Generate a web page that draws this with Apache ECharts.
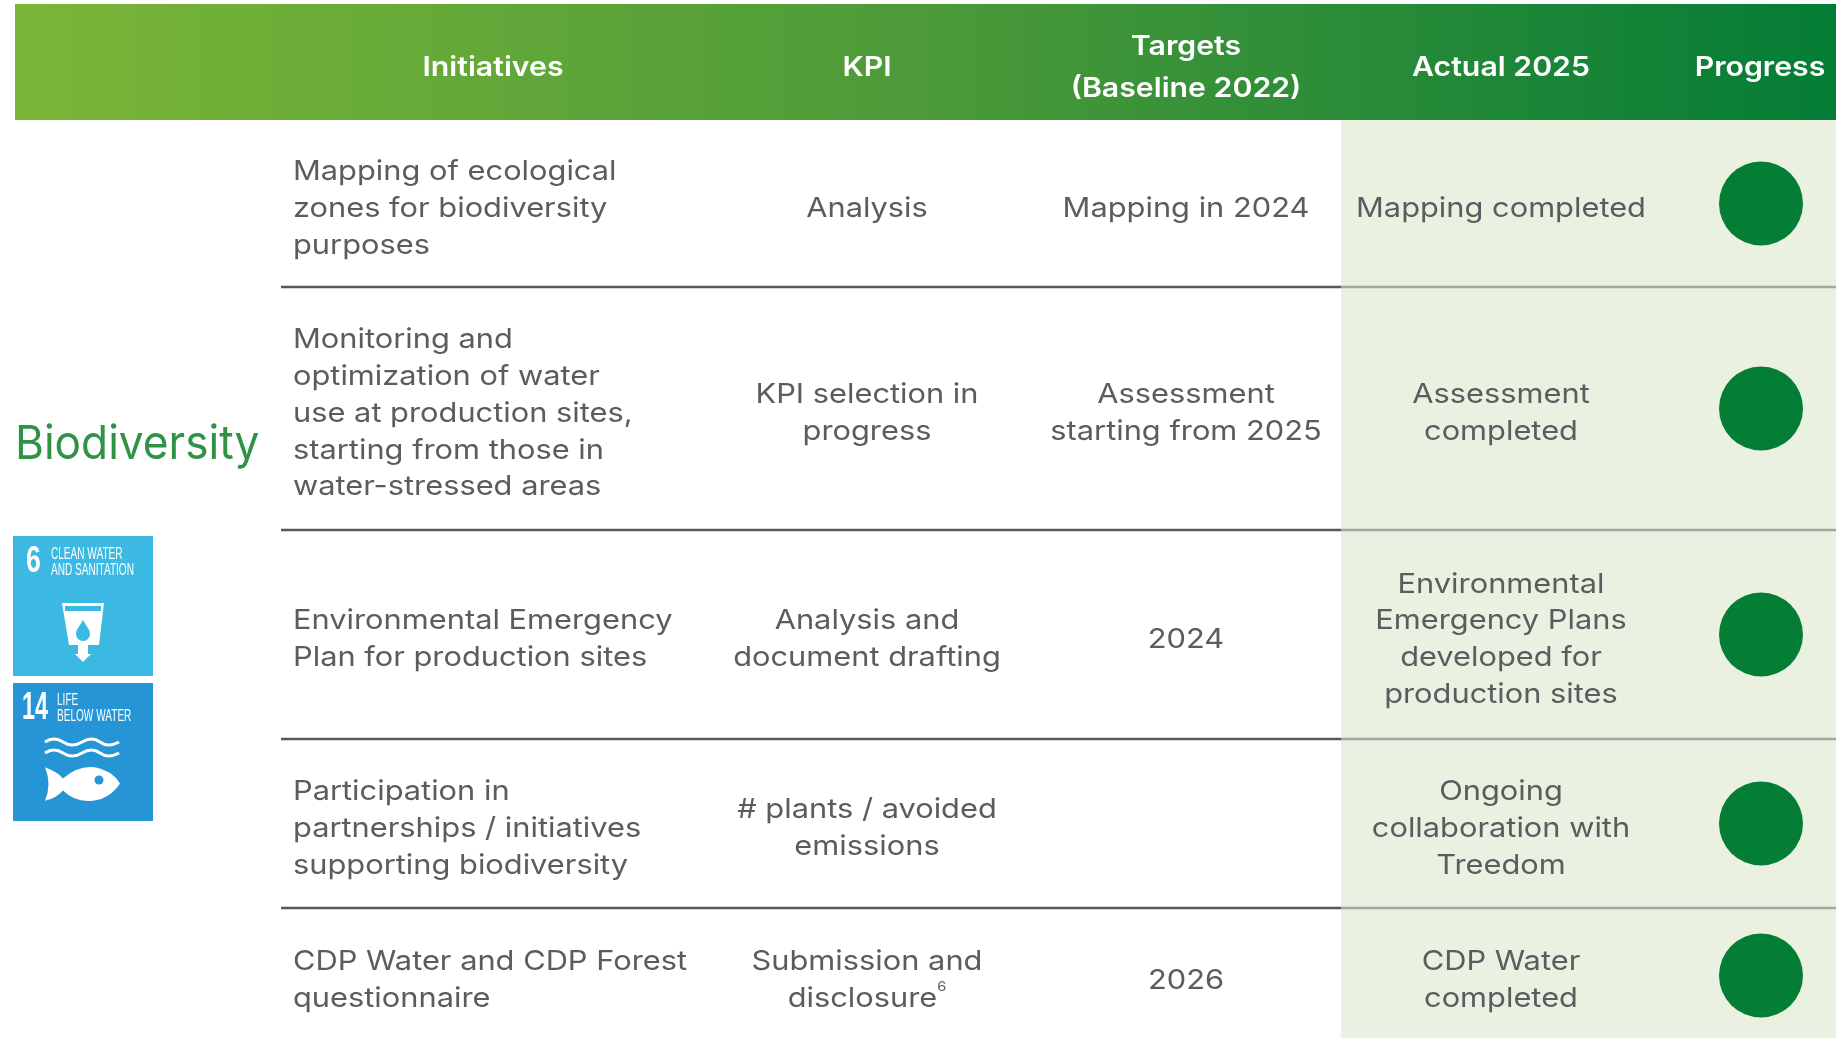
<!DOCTYPE html>
<html>
<head>
<meta charset="utf-8">
<style>
  html, body { margin: 0; height: 100%; background: #fff; }
  #chartRef { width: 1836px; height: 1038px; }
</style>
<script src="https://cdn.jsdelivr.net/npm/echarts@6/dist/echarts.min.js"></script>
</head>
<body>
<div id="chartRef"></div>
<script>
const headers = ['Initiatives', 'KPI', 'Targets\n(Baseline 2022)', 'Actual 2025', 'Progress'];
const initiatives = [
  'Mapping of ecological\nzones for biodiversity\npurposes',
  'Monitoring and\noptimization of water\nuse at production sites,\nstarting from those in\nwater-stressed areas',
  'Environmental Emergency\nPlan for production sites',
  'Participation in\npartnerships / initiatives\nsupporting biodiversity',
  'CDP Water and CDP Forest\nquestionnaire'
];
const kpis = [
  'Analysis',
  'KPI selection in\nprogress',
  'Analysis and\ndocument drafting',
  '# plants / avoided\nemissions',
  'Submission and\ndisclosure{sup|6}'
];
const targets = [
  'Mapping in 2024',
  'Assessment\nstarting from 2025',
  '2024',
  '',
  '2026'
];
const actuals = [
  'Mapping completed',
  'Assessment\ncompleted',
  'Environmental\nEmergency Plans\ndeveloped for\nproduction sites',
  'Ongoing\ncollaboration with\nTreedom',
  'CDP Water\ncompleted'
];
const progress = ['done', 'done', 'done', 'done', 'done'];

// table layout, in axis units (the axes are 1:1 with the page)
// the last row runs off the bottom of the page
const rowEdges = [120, 287, 530, 739, 908, 1043];
const headerTop = 4;
const headerHeadX = [493, 867, 1186, 1501, 1760];
const initiativeX = 293;
const kpiX = 867;
const targetX = 1186;
const actualX = 1501;
const progressX = 1761;
const tableLeft = 281;
const bandLeft = 1341;
const pageRight = 1836;
const textNudge = 5;

const FONT = 'Inter, "Noto Sans", sans-serif';
const NARROW = '"Liberation Sans", sans-serif';
const TEXT_COLOR = '#5b5c5f';
const WIDEN = 1.12;
const TILE_A = '#3bb9e3';
const TILE_B = '#2595d5';

const rowMid = (i) => (rowEdges[i] + rowEdges[i + 1]) / 2;

function textCell(api, x, y, str, align) {
  const p = api.coord([x, y]);
  return {
    type: 'text',
    x: p[0],
    y: p[1],
    scaleX: WIDEN,
    style: {
      text: str,
      fill: TEXT_COLOR,
      font: '400 27.5px ' + FONT,
      lineHeight: 36.8,
      align: align,
      verticalAlign: 'middle',
      rich: {
        sup: { font: '400 13px ' + FONT, fill: TEXT_COLOR, verticalAlign: 'top', lineHeight: 24 }
      }
    }
  };
}

function tileText(x, y, str, size, weight, squeeze, lineHeight) {
  return {
    type: 'text',
    x: x,
    y: y,
    scaleX: squeeze,
    style: {
      text: str,
      fill: '#fff',
      font: weight + ' ' + size + 'px ' + NARROW,
      lineHeight: lineHeight,
      verticalAlign: 'middle'
    }
  };
}

function pathShape(d, x, y, width, height) {
  return { pathData: d, x: x, y: y, width: width, height: height, layout: 'cover' };
}

const chart = echarts.init(document.getElementById('chartRef'));

const option = {
  animation: false,
  backgroundColor: '#fff',
  grid: { left: 0, top: 0, right: 0, bottom: 0 },
  xAxis: { type: 'value', min: 0, max: 1836, show: false },
  yAxis: { type: 'value', min: 0, max: 1038, inverse: true, show: false },
  series: [
    {
      // header strip and the pale band behind the last two columns
      type: 'custom',
      z: 1,
      silent: true,
      data: [0],
      renderItem(params, api) {
        const a = api.coord([15, headerTop]);
        const b = api.coord([pageRight, rowEdges[0]]);
        const c = api.coord([bandLeft, rowEdges[0]]);
        const d = api.coord([pageRight, rowEdges[rowEdges.length - 1]]);
        return {
          type: 'group',
          children: [
            {
              type: 'rect',
              shape: { x: a[0], y: a[1], width: b[0] - a[0], height: b[1] - a[1] },
              style: {
                fill: new echarts.graphic.LinearGradient(0, 0, 1, 0, [
                  { offset: 0, color: '#7bb637' },
                  { offset: 0.5, color: '#4c9a39' },
                  { offset: 1, color: '#047c36' }
                ])
              }
            },
            {
              type: 'rect',
              shape: { x: c[0], y: c[1], width: d[0] - c[0], height: d[1] - c[1] },
              style: { fill: '#ebf1e0' }
            }
          ]
        };
      }
    },
    {
      // row rules
      type: 'custom',
      z: 2,
      silent: true,
      data: rowEdges.slice(1, -1),
      renderItem(params, api) {
        const y = api.value(0);
        const a = api.coord([tableLeft, y]);
        const m = api.coord([bandLeft, y]);
        const b = api.coord([pageRight, y]);
        return {
          type: 'group',
          children: [
            { type: 'line', shape: { x1: a[0], y1: a[1], x2: m[0], y2: m[1] }, style: { stroke: '#58595b', lineWidth: 2.5 } },
            { type: 'line', shape: { x1: m[0], y1: m[1], x2: b[0], y2: b[1] }, style: { stroke: '#a4a6a4', lineWidth: 2.5 } }
          ]
        };
      }
    },
    {
      type: 'custom',
      z: 3,
      silent: true,
      data: initiatives.map((t, i) => i),
      renderItem(params, api) {
        const i = api.value(0);
        const y = rowMid(i) + textNudge;
        return {
          type: 'group',
          children: [
            textCell(api, initiativeX, y, initiatives[i], 'left'),
            textCell(api, kpiX, y, kpis[i], 'center'),
            textCell(api, targetX, y, targets[i], 'center'),
            textCell(api, actualX, y, actuals[i], 'center')
          ]
        };
      }
    },
    {
      // header labels
      type: 'custom',
      z: 3,
      silent: true,
      data: headers.map((t, i) => i),
      renderItem(params, api) {
        const i = api.value(0);
        const p = api.coord([headerHeadX[i], 67.5]);
        return {
          type: 'text',
          x: p[0],
          y: p[1],
          scaleX: 1.1,
          style: {
            text: headers[i],
            fill: '#fff',
            font: '600 27.5px ' + FONT,
            lineHeight: 42,
            align: 'center',
            verticalAlign: 'middle'
          }
        };
      }
    },
    {
      // SDG tiles, drawn in page pixels because the axes are 1:1
      type: 'custom',
      z: 3,
      silent: true,
      data: [0],
      renderItem() {
        return {
          type: 'group',
          children: [
            { type: 'rect', shape: { x: 13, y: 536, width: 140, height: 140 }, style: { fill: TILE_A } },
            tileText(26, 562, '6', 37, 700, 0.72, 37),
            tileText(51, 562, 'CLEAN WATER\nAND SANITATION', 16.5, 400, 0.61, 16),
            { type: 'polygon', shape: { points: [[62, 603], [104, 603], [99, 645], [88, 645], [88, 654], [91, 654], [83, 662], [75, 654], [78, 654], [78, 645], [69, 645]] }, style: { fill: '#fff' } },
            { type: 'rect', shape: { x: 65, y: 606, width: 36, height: 5 }, style: { fill: TILE_A } },
            { type: 'path', shape: pathShape('M83 620 C86 626 90 629 90 634 A7 7 0 0 1 76 634 C76 629 80 626 83 620 Z', 76, 620, 14, 21), style: { fill: TILE_A } },
            { type: 'rect', shape: { x: 13, y: 683, width: 140, height: 138 }, style: { fill: TILE_B } },
            tileText(22, 708, '14', 39, 700, 0.6, 39),
            tileText(57, 708, 'LIFE\nBELOW WATER', 16.5, 400, 0.61, 16),
            { type: 'path', shape: pathShape('M45 742 Q54 736 63 742 T82 742 T100 742 T119 742', 45, 739, 74, 6), style: { fill: 'none', stroke: '#fff', lineWidth: 3 } },
            { type: 'path', shape: pathShape('M45 753 Q54 747 63 753 T82 753 T100 753 T119 753', 45, 750, 74, 6), style: { fill: 'none', stroke: '#fff', lineWidth: 3 } },
            { type: 'path', shape: pathShape('M45 767 Q58 772 63 778 Q78 765 95 767 Q112 770 120 783 Q110 798 93 800 Q75 802 63 790 Q56 798 45 800 Q52 784 45 767 Z', 45, 767, 75, 34), style: { fill: '#fff' } },
            { type: 'circle', shape: { cx: 99, cy: 780, r: 4.5 }, style: { fill: TILE_B } }
          ]
        };
      }
    },
    {
      name: 'Progress',
      type: 'scatter',
      z: 4,
      silent: true,
      symbol: 'circle',
      symbolSize: 84,
      itemStyle: { color: '#047e35', opacity: 1 },
      data: progress.map((s, i) => [progressX, rowMid(i)])
    }
  ],
  graphic: {
    elements: [
      {
        type: 'text', x: 15, y: 445, scaleX: 0.94,
        style: { text: 'Biodiversity', fill: '#2f9247', font: '400 47px ' + FONT, verticalAlign: 'middle' }
      }
    ]
  }
};

chart.setOption(option);
</script>
</body>
</html>
